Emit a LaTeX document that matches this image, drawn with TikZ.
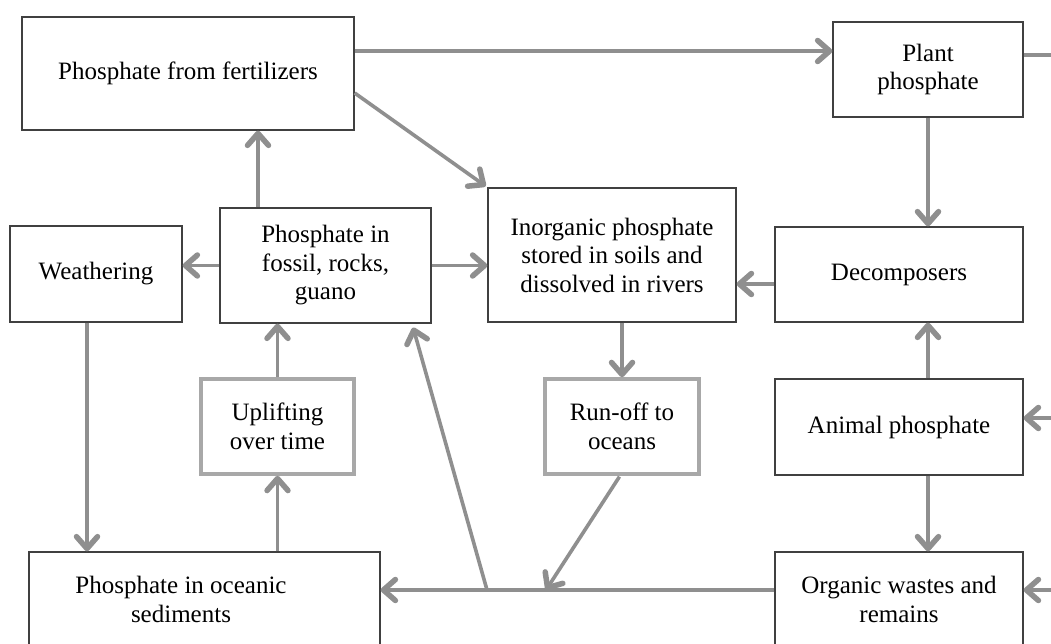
\documentclass[tikz,border=0pt]{standalone}
\usepackage{fontspec}
\setmainfont{Liberation Serif}
\usetikzlibrary{arrows.meta,shadows,calc}

\definecolor{boxline}{gray}{0.25}
\definecolor{arrowgray}{gray}{0.56}
\definecolor{softline}{gray}{0.66}

\tikzset{
  boxfont/.style={font=\fontsize{25}{28.5}\selectfont},
  box/.style={draw=boxline, line width=1.3pt, fill=white, align=center,
    inner sep=0pt, boxfont,
    drop shadow={shadow xshift=1.2pt, shadow yshift=-1.4pt, opacity=0.3}},
  softbox/.style={draw=softline, line width=3.6pt, fill=white, align=center,
    inner sep=0pt, boxfont},
  arr/.style={draw=arrowgray, line width=3.6pt,
    -{Straight Barb[length=12pt,width=21pt,line width=5.5pt,round]}},
  flow/.style={draw=arrowgray, line width=3.6pt}
}

\begin{document}
\begin{tikzpicture}[x=1pt,y=-1pt]
    \clip (0,0) rectangle (1051,644);
    \fill[white] (0,0) rectangle (1051,644);
    % Draw the boxes
    \node[box, minimum width=332pt, minimum height=113pt] (fert) at (188,73.5) {Phosphate from fertilizers};
    \node[box, minimum width=190pt, minimum height=95pt] (plant) at (928,69.5) {Plant\\phosphate};
    \node[box, minimum width=172pt, minimum height=96pt] (weath) at (96,274) {Weathering};
    \node[box, minimum width=211pt, minimum height=115pt] (fossil) at (325.5,265.5) {Phosphate in\\fossil, rocks,\\guano};
    \node[box, minimum width=248pt, minimum height=134pt] (inorg) at (612,255) {Inorganic phosphate\\stored in soils and\\dissolved in rivers};
    \node[box, minimum width=248pt, minimum height=95pt] (decomp) at (899,274.5) {Decomposers};
    \node[softbox, minimum width=153pt, minimum height=95pt] (uplift) at (277.5,426.5) {Uplifting\\over time};
    \node[softbox, minimum width=154pt, minimum height=95pt] (runoff) at (622,426.5) {Run-off to\\oceans};
    \node[box, minimum width=248pt, minimum height=96pt] (animal) at (899,427) {Animal phosphate};
    \node[box, minimum width=351pt, minimum height=95pt,
      label={[boxfont, align=center, xshift=-23.5pt]center:Phosphate in oceanic\\sediments}] (sedim) at (204.5,599.5) {};
    \node[box, minimum width=248pt, minimum height=95pt] (organic) at (899,599.5) {Organic wastes and\\remains};
    % Free ends and joints
    \coordinate (plantout) at (1051,55);
    \coordinate (animalin) at (1051,418);
    \coordinate (organicin) at (1051,590);
    \coordinate (fork) at (487,590);
    \coordinate (join) at (546,590);
    % Draw the top arrows
    \draw[arr] ([yshift=22.5pt]fert.east) -- ([yshift=22.5pt]fert.east -| plant.west);
    \draw[arr, shorten >=2pt] ([yshift=-19.5pt]fert.east) -- (inorg.north west);
    \draw[flow] ([yshift=14.5pt]plant.east) -- (plantout);
    \draw[arr] (plant.south) -- (plant.south |- decomp.north);
    % Draw the middle arrows
    \draw[arr] ([yshift=-9.5pt]decomp.west) -- ([yshift=-9.5pt]decomp.west -| inorg.east);
    \draw[arr] (fossil.west) -- (fossil.west -| weath.east);
    \draw[arr] (fossil.east) -- (fossil.east -| inorg.west);
    \draw[arr] ([xshift=-67.5pt]fossil.north) -- ([xshift=-67.5pt]fossil.north |- fert.south);
    \draw[arr] ([xshift=-9pt]weath.south) -- ([xshift=-9pt]weath.south |- sedim.north);
    \draw[arr] (uplift.south |- sedim.north) -- (uplift.south);
    \draw[arr] (uplift.north) -- (uplift.north |- fossil.south);
    \draw[arr] (runoff.north |- inorg.south) -- (runoff.north);
    % Draw the animal arrows
    \draw[arr] ([xshift=29pt]animal.north) -- ([xshift=29pt]animal.north |- decomp.south);
    \draw[arr] ([xshift=29pt]animal.south) -- ([xshift=29pt]animal.south |- organic.north);
    \draw[arr] (animalin) -- (animalin -| animal.east);
    \draw[arr] (organicin) -- (organicin -| organic.east);
    % Draw the bottom line and its branches
    \draw[arr] ([yshift=9.5pt]organic.west) -- ([yshift=9.5pt]organic.west -| sedim.east);
    \draw[arr, shorten >=4pt] (fork) -- ([xshift=86.5pt]fossil.south);
    \draw[arr, shorten <=1pt] ([xshift=-2pt]runoff.south) -- (join);
\end{tikzpicture}
\end{document}
